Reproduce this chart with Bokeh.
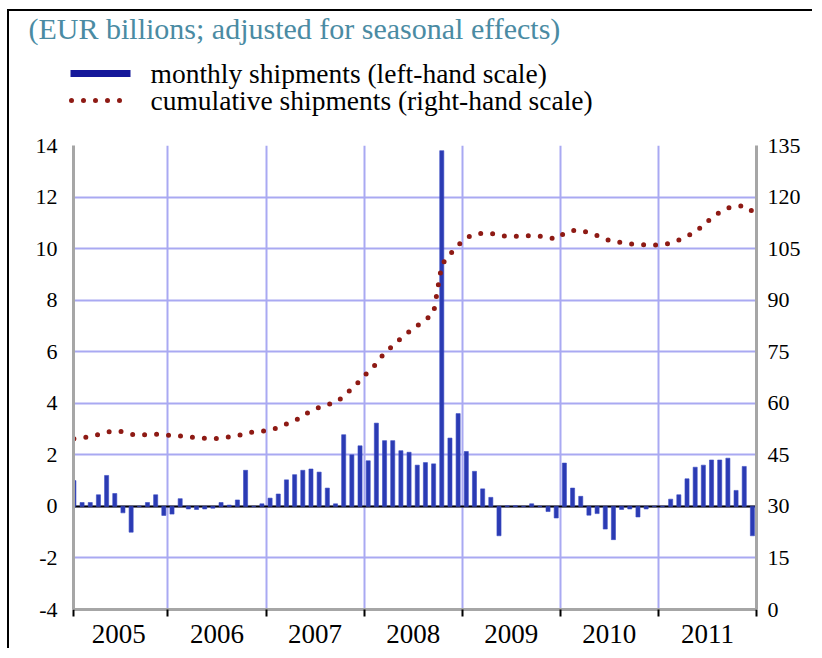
from bokeh.plotting import figure
from bokeh.layouts import column
from bokeh.models import Range1d, LinearAxis, FixedTicker, Span, ColumnDataSource
from bokeh.core.properties import value
from bokeh.embed import file_html
from bokeh.resources import INLINE

# ---------------- data ----------------
years = ["2005", "2006", "2007", "2008", "2009", "2010", "2011"]

monthly_2005 = [1.0, 0.15, 0.15, 0.45, 1.2, 0.5, -0.25, -1.0, 0.0, 0.15, 0.45, -0.35]
monthly_2006 = [-0.3, 0.3, -0.1, -0.12, -0.1, -0.07, 0.15, 0.05, 0.25, 1.4, 0.0, 0.1]
monthly_2007 = [0.32, 0.48, 1.03, 1.23, 1.4, 1.45, 1.33, 0.71, 0.1, 2.78, 2.0, 2.35]
monthly_2008 = [1.77, 3.23, 2.55, 2.55, 2.16, 2.1, 1.6, 1.7, 1.65, 13.8, 2.65, 3.6]
monthly_2009 = [2.13, 1.36, 0.68, 0.35, -1.14, 0.02, 0.02, 0.0, 0.1, 0.0, -0.2, -0.45]
monthly_2010 = [1.68, 0.71, 0.39, -0.34, -0.28, -0.88, -1.29, -0.12, -0.1, -0.41, -0.1, 0.0]
monthly_2011 = [0.0, 0.28, 0.45, 1.07, 1.52, 1.6, 1.8, 1.8, 1.87, 0.62, 1.55, -1.14]

cumulative_2005 = [49.7, 49.9, 50.3, 50.9, 51.6, 51.95, 51.7, 51.0, 50.7, 50.9, 51.0, 50.9]
cumulative_2006 = [50.6, 50.5, 50.3, 49.9, 49.8, 49.7, 49.9, 50.2, 50.5, 51.3, 51.7, 51.8]
cumulative_2007 = [52.3, 52.9, 54.0, 54.8, 56.4, 57.8, 58.8, 59.6, 60.2, 62.0, 64.3, 66.6]
cumulative_2008 = [69.2, 71.5, 74.7, 76.7, 78.9, 80.8, 82.6, 84.2, 86.3, 100.3, 103.3, 106.0]
cumulative_2009 = [108.1, 109.2, 109.5, 109.5, 108.8, 108.6, 108.6, 108.7, 108.8, 108.6, 108.2, 107.8]
cumulative_2010 = [109.5, 110.3, 110.3, 109.6, 108.8, 107.8, 107.0, 106.8, 106.4, 106.2, 106.1, 106.0]
cumulative_2011 = [106.2, 106.6, 107.5, 108.6, 109.8, 111.8, 113.9, 115.6, 116.8, 117.3, 117.5, 115.9]

left_ticks = [-4, -2, 0, 2, 4, 6, 8, 10, 12, 14]
right_ticks = [0, 15, 30, 45, 60, 75, 90, 105, 120, 135]

title_text = "(EUR billions; adjusted for seasonal effects)"
legend_bar = "monthly shipments (left-hand scale)"
legend_line = "cumulative shipments (right-hand scale)"

monthly = (monthly_2005 + monthly_2006 + monthly_2007 + monthly_2008 +
           monthly_2009 + monthly_2010 + monthly_2011)
cumulative = (cumulative_2005 + cumulative_2006 + cumulative_2007 + cumulative_2008 +
              cumulative_2009 + cumulative_2010 + cumulative_2011)
n = len(monthly)
xpos = [i + 0.5 for i in range(n)]          # month centres, month 0 = Jan 2005
year_bounds = [12 * k for k in range(1, len(years))]
year_centres = [12 * k + 6 for k in range(len(years))]

src = ColumnDataSource(dict(x=xpos, m=monthly, c=cumulative))

# ---------------- styles ----------------
FONT = "Liberation Serif"
GRID = "#a9a9f2"
AXIS = "#a6a6a6"
BAR = "#2b3bb3"
BAR_DARK = "#15189a"
DOT = "#8e1a14"
TITLE_COL = "#4a8ba3"
W = 805
H_HEAD = 120
H_MAIN = 519

# ---------------- header: title + legend ----------------
head = figure(width=W, height=H_HEAD, output_backend="svg", toolbar_location=None,
              x_range=Range1d(0, W), y_range=Range1d(H_HEAD, 0),
              x_axis_type=None, y_axis_type=None, min_border=0)
head.frame_align = False
head.outline_line_color = None
head.grid.visible = False

head.text(x=[19], y=[17], text=[title_text], text_font=value(FONT),
          text_font_size="30px", text_color=TITLE_COL,
          text_baseline="middle", text_align="left")
head.line(x=[61, 121], y=[62, 62], line_color=BAR_DARK, line_width=7)
head.line(x=[62, 122], y=[89, 89], line_color=DOT, line_width=5,
          line_dash="0 12", line_cap="round")
head.text(x=[141, 141], y=[62, 89], text=[legend_bar, legend_line],
          text_font=value(FONT), text_font_size="27.5px", text_color="black",
          text_baseline="middle", text_align="left")

# ---------------- main chart ----------------
p = figure(width=W, height=H_MAIN, output_backend="svg", toolbar_location=None,
           x_range=Range1d(0.45, 84.0), y_range=Range1d(-4, 14),
           min_border_left=64, min_border_right=58, min_border_top=14,
           min_border_bottom=41)
p.frame_align = False
p.extra_y_ranges = {"right": Range1d(0, 135)}
p.outline_line_color = None

# x axis: year labels in the middle of each year, ticks at year limits
p.xaxis.ticker = FixedTicker(ticks=year_centres, minor_ticks=[0.45] + year_bounds + [84.0])
p.xaxis.major_label_overrides = {c: y for c, y in zip(year_centres, years)}
p.xaxis.major_tick_in = 0
p.xaxis.major_tick_out = 0
p.xaxis.minor_tick_in = 0
p.xaxis.minor_tick_out = 7
p.xaxis.minor_tick_line_color = "black"
p.xaxis.minor_tick_line_width = 2
p.xaxis.axis_line_color = AXIS
p.xaxis.axis_line_width = 3
p.xaxis.major_label_text_font = FONT
p.xaxis.major_label_text_font_size = "27px"
p.xaxis.major_label_text_color = "black"
p.xaxis.major_label_standoff = 8

# left axis
p.yaxis.ticker = FixedTicker(ticks=left_ticks)
p.yaxis.major_label_overrides = {t: str(t) for t in left_ticks}
p.yaxis.major_tick_in = 0
p.yaxis.major_tick_out = 0
p.yaxis.minor_tick_line_color = None
p.yaxis.axis_line_color = AXIS
p.yaxis.axis_line_width = 3
p.yaxis.major_label_text_font = FONT
p.yaxis.major_label_text_font_size = "22px"
p.yaxis.major_label_text_color = "black"
p.yaxis.major_label_standoff = 16

# right axis
ra = LinearAxis(y_range_name="right", ticker=FixedTicker(ticks=right_ticks))
ra.major_tick_in = 0
ra.major_tick_out = 0
ra.minor_tick_line_color = None
ra.axis_line_color = AXIS
ra.axis_line_width = 3
ra.major_label_text_font = FONT
ra.major_label_text_font_size = "22px"
ra.major_label_text_color = "black"
ra.major_label_standoff = 11
p.add_layout(ra, "right")

# grids
p.xgrid.ticker = FixedTicker(ticks=year_bounds)
p.xgrid.grid_line_color = GRID
p.xgrid.grid_line_width = 2
p.ygrid.grid_line_color = GRID
p.ygrid.grid_line_width = 2

# zero line
p.add_layout(Span(location=0, dimension="width", line_color="black",
                  line_width=2, level="underlay"))

# bars (left scale)
p.vbar(x="x", top="m", bottom=0, width=0.5, source=src,
       fill_color=BAR, line_color="#3a4cc4", line_width=0.6)

# cumulative dotted line (right scale)
p.line(x="x", y="c", source=src, y_range_name="right",
       line_color=DOT, line_width=5, line_dash="0 12", line_cap="round")

layout = column(head, p, spacing=0, width=W, height=H_HEAD + H_MAIN,
                sizing_mode="fixed",
                styles={"margin-left": "9px", "margin-top": "11px",
                        "margin-bottom": "-40px",
                        "box-shadow": "-2px -2px 0 0 black"})

open("out.html", "w").write(file_html(layout, INLINE))
